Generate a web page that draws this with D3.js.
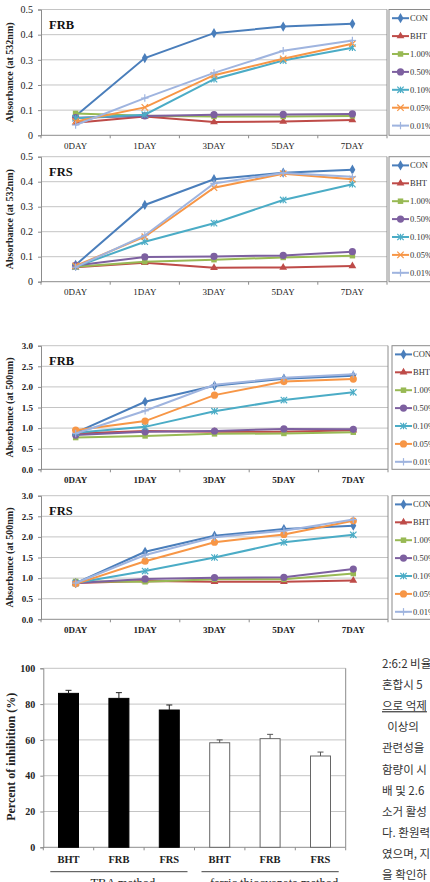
<!DOCTYPE html>
<html>
<head>
<meta charset="utf-8">
<script src="https://cdn.jsdelivr.net/npm/d3@7"></script>
<style>
  html, body { margin: 0; padding: 0; background: #fff; overflow: hidden; }
  svg { display: block; }
</style>
</head>
<body>
<svg id="chart" width="430" height="882"></svg>
<script>
// ---------------- DATA ----------------
const days = ["0DAY", "1DAY", "3DAY", "5DAY", "7DAY"];
const seriesNames = ["CON", "BHT", "1.00%", "0.50%", "0.10%", "0.05%", "0.01%"];
const seriesColors = ["#4A7EBB", "#BE4B48", "#98B954", "#7D60A0", "#4BACC6", "#F79646", "#9FB4DF"];
const markers532 = ["diamond", "triangle", "square", "circle", "star", "x", "plus"];
const markers500 = ["diamond", "triangle", "square", "circle", "star", "circle", "plus"];

const ticks532 = [0, 0.1, 0.2, 0.3, 0.4, 0.5];
const tickLabels532 = ["0", "0.1", "0.2", "0.3", "0.4", "0.5"];
const ticks500 = [0, 0.5, 1.0, 1.5, 2.0, 2.5, 3.0];
const tickLabels500 = ["0.0", "0.5", "1.0", "1.5", "2.0", "2.5", "3.0"];

// FRB, TBA (absorbance at 532nm) — rows follow seriesNames
const frb532 = [
  [0.077, 0.307, 0.406, 0.432, 0.443],
  [0.050, 0.075, 0.053, 0.055, 0.061],
  [0.087, 0.078, 0.075, 0.075, 0.077],
  [0.070, 0.077, 0.082, 0.083, 0.085],
  [0.068, 0.082, 0.223, 0.297, 0.348],
  [0.055, 0.111, 0.239, 0.304, 0.364],
  [0.041, 0.148, 0.248, 0.336, 0.377]
];
// FRS, TBA (absorbance at 532nm)
const frs532 = [
  [0.067, 0.307, 0.410, 0.436, 0.448],
  [0.058, 0.076, 0.056, 0.057, 0.063],
  [0.060, 0.080, 0.088, 0.097, 0.104],
  [0.065, 0.099, 0.101, 0.105, 0.120],
  [0.060, 0.160, 0.234, 0.327, 0.390],
  [0.063, 0.180, 0.376, 0.432, 0.410],
  [0.058, 0.185, 0.393, 0.435, 0.420]
];
// FRB, ferric thiocyanate (absorbance at 500nm)
const frb500 = [
  [0.89, 1.64, 2.03, 2.20, 2.27],
  [0.87, 0.93, 0.91, 0.91, 0.95],
  [0.77, 0.81, 0.86, 0.87, 0.90],
  [0.83, 0.91, 0.93, 0.98, 0.97],
  [0.89, 1.03, 1.41, 1.68, 1.87],
  [0.95, 1.17, 1.80, 2.13, 2.19],
  [0.87, 1.42, 2.05, 2.22, 2.31]
];
// FRS, ferric thiocyanate (absorbance at 500nm)
const frs500 = [
  [0.88, 1.64, 2.03, 2.19, 2.27],
  [0.88, 0.93, 0.91, 0.91, 0.94],
  [0.92, 0.91, 0.97, 0.97, 1.11],
  [0.88, 0.98, 1.01, 1.02, 1.22],
  [0.88, 1.17, 1.50, 1.87, 2.05],
  [0.86, 1.41, 1.87, 2.06, 2.39],
  [0.88, 1.56, 1.99, 2.15, 2.42]
];

// Bar chart: percent of inhibition
const barCategories = ["BHT", "FRB", "FRS", "BHT", "FRB", "FRS"];
const barValues = [86.0, 83.2, 76.7, 58.4, 60.7, 51.0];
const barErrors = [1.7, 3.2, 2.8, 1.6, 2.4, 2.2];
const barFills = ["#000", "#000", "#000", "#fff", "#fff", "#fff"];
const barTicks = [0, 20, 40, 60, 80, 100];
const methodGroups = ["TBA method", "ferric thiocyanate method"];

// Korean body text (clipped at page edge)
const bodyLines = [
  "2:6:2 비율로",
  "혼합시 5",
  "으로 억제",
  "  이상의",
  "관련성을",
  "함량이 시",
  "배 및 2.6",
  "소거 활성",
  "다. 환원력",
  "였으며, 지",
  "을 확인하"
];

// ---------------- DRAW ----------------
const svg = d3.select("#chart");
svg.append("rect").attr("width", 430).attr("height", 882).attr("fill", "#fff");
const SERIF = "'Liberation Serif', 'Times New Roman', serif";
const GRID = "#C4C4C4";
const AXIS = "#8C8C8C";

function drawMarker(g, type, x, y, color) {
  if (type === "circle") {
    g.append("circle").attr("cx", x).attr("cy", y).attr("r", 3.6).attr("fill", color);
  } else if (type === "diamond" || type === "triangle" || type === "square") {
    const sym = { diamond: d3.symbolDiamond, triangle: d3.symbolTriangle, square: d3.symbolSquare }[type];
    const size = { diamond: 30, triangle: 26, square: 30 }[type];
    g.append("path").attr("d", d3.symbol(sym, size)())
      .attr("transform", `translate(${x},${y})`).attr("fill", color);
  } else {
    const s = 3.2;
    let segs = [];
    if (type === "x" || type === "star") segs.push([-s, -s, s, s], [-s, s, s, -s]);
    if (type === "star") segs.push([0, -s, 0, s]);
    if (type === "plus") segs.push([-s - 0.5, 0, s + 0.5, 0], [0, -s - 0.5, 0, s + 0.5]);
    segs.forEach(p => g.append("line")
      .attr("x1", x + p[0]).attr("y1", y + p[1]).attr("x2", x + p[2]).attr("y2", y + p[3])
      .attr("stroke", color).attr("stroke-width", 1.2));
  }
}

function lineChart(cfg) {
  const g = svg.append("g");
  const x = d3.scaleBand().domain(days).range([cfg.left, cfg.right]);
  const y = d3.scaleLinear().domain([cfg.ticks[0], cfg.ticks[cfg.ticks.length - 1]]).range([cfg.bottom, cfg.top]);

  // gridlines
  g.selectAll(".grid").data(cfg.ticks).join("line")
    .attr("x1", cfg.left).attr("x2", cfg.right)
    .attr("y1", d => y(d)).attr("y2", d => y(d))
    .attr("stroke", d => d === 0 ? AXIS : GRID).attr("stroke-width", 1);
  // right border
  g.append("line").attr("x1", cfg.right).attr("x2", cfg.right)
    .attr("y1", cfg.top).attr("y2", cfg.bottom).attr("stroke", AXIS);

  // y axis
  const yAxis = d3.axisLeft(y).tickValues(cfg.ticks)
    .tickFormat((d, i) => cfg.tickLabels[i]).tickSize(3).tickPadding(5);
  const ya = g.append("g").attr("transform", `translate(${cfg.left},0)`).call(yAxis);
  ya.select(".domain").attr("stroke", AXIS);
  ya.selectAll(".tick line").attr("stroke", AXIS);
  ya.selectAll("text").attr("font-family", SERIF).attr("font-size", cfg.bold ? 9 : 10)
    .attr("font-weight", cfg.bold ? "bold" : "normal").attr("fill", "#222");

  // x axis
  const xAxis = d3.axisBottom(x).tickSize(0).tickPadding(7);
  const xa = g.append("g").attr("transform", `translate(0,${cfg.bottom})`).call(xAxis);
  xa.select(".domain").remove();
  xa.selectAll("text").attr("font-family", SERIF).attr("font-size", 9)
    .attr("font-weight", cfg.bold ? "bold" : "normal").attr("fill", "#222");
  const bounds = days.map(d => x(d)).concat([cfg.right]);
  g.selectAll(".xt").data(bounds).join("line")
    .attr("x1", d => d).attr("x2", d => d)
    .attr("y1", cfg.bottom).attr("y2", cfg.bottom + 3).attr("stroke", AXIS);

  // y title
  g.append("text")
    .attr("transform", `translate(${cfg.left - 28},${(cfg.top + cfg.bottom) / 2}) rotate(-90)`)
    .attr("text-anchor", "middle").attr("font-family", SERIF).attr("font-weight", "bold")
    .attr("font-size", 10).attr("fill", "#222").text(cfg.yTitle);

  // panel label
  g.append("text").attr("x", cfg.left + 8).attr("y", cfg.top + 19)
    .attr("font-family", SERIF).attr("font-weight", "bold").attr("font-size", 12.5)
    .attr("fill", "#111").text(cfg.label);

  // series
  const line = d3.line().x((d, i) => x(days[i]) + x.bandwidth() / 2).y(d => y(d));
  cfg.data.forEach((vals, si) => {
    const sg = g.append("g");
    sg.append("path").attr("d", line(vals)).attr("fill", "none")
      .attr("stroke", seriesColors[si]).attr("stroke-width", 2);
    vals.forEach((v, i) => drawMarker(sg, cfg.markers[si], x(days[i]) + x.bandwidth() / 2, y(v), seriesColors[si]));
  });

  // legend
  const lg = g.append("g");
  lg.append("rect").attr("x", cfg.legendX).attr("y", cfg.top)
    .attr("width", 60).attr("height", cfg.bottom - cfg.top)
    .attr("fill", "#fff").attr("stroke", "#8a8a8a");
  seriesNames.forEach((name, i) => {
    const ly = cfg.top + 8.7 + i * 17.9;
    lg.append("line").attr("x1", cfg.legendX + 3).attr("x2", cfg.legendX + 20)
      .attr("y1", ly).attr("y2", ly).attr("stroke", seriesColors[i]).attr("stroke-width", 2);
    drawMarker(lg, cfg.markers[i], cfg.legendX + 11.5, ly, seriesColors[i]);
    lg.append("text").attr("x", cfg.legendX + 21).attr("y", ly + 3)
      .attr("font-family", SERIF).attr("font-size", 8.5).attr("fill", "#333").text(name);
  });
}

lineChart({ data: frb532, label: "FRB", yTitle: "Absorbance (at 532nm)", ticks: ticks532, tickLabels: tickLabels532,
  left: 41, right: 387, top: 9.5, bottom: 135.3, legendX: 389, bold: false, markers: markers532 });
lineChart({ data: frs532, label: "FRS", yTitle: "Absorbance (at 532nm)", ticks: ticks532, tickLabels: tickLabels532,
  left: 41, right: 387, top: 156.7, bottom: 281.7, legendX: 389, bold: false, markers: markers532 });
lineChart({ data: frb500, label: "FRB", yTitle: "Absorbance (at 500nm)", ticks: ticks500, tickLabels: tickLabels500,
  left: 41, right: 388, top: 345.7, bottom: 469.3, legendX: 392, bold: true, markers: markers500 });
lineChart({ data: frs500, label: "FRS", yTitle: "Absorbance (at 500nm)", ticks: ticks500, tickLabels: tickLabels500,
  left: 41, right: 388, top: 495.7, bottom: 619.3, legendX: 392, bold: true, markers: markers500 });

// ---------------- BAR CHART ----------------
(function () {
  const left = 43.3, right = 345.7, top = 668.3, bottom = 847.3;
  const g = svg.append("g");
  const idx = barCategories.map((d, i) => i);
  const xb = d3.scaleBand().domain(idx).range([left, right]);
  const y = d3.scaleLinear().domain([0, 100]).range([bottom, top]);

  g.selectAll(".grid").data(barTicks).join("line")
    .attr("x1", left).attr("x2", right).attr("y1", d => y(d)).attr("y2", d => y(d))
    .attr("stroke", d => d === 0 ? AXIS : GRID);
  g.append("line").attr("x1", right).attr("x2", right).attr("y1", top).attr("y2", bottom).attr("stroke", AXIS);

  const ya = g.append("g").attr("transform", `translate(${left},0)`)
    .call(d3.axisLeft(y).tickValues(barTicks).tickSize(3).tickPadding(5));
  ya.select(".domain").attr("stroke", AXIS);
  ya.selectAll(".tick line").attr("stroke", AXIS);
  ya.selectAll("text").attr("font-family", SERIF).attr("font-weight", "bold")
    .attr("font-size", 10).attr("fill", "#222");

  // x ticks at boundaries
  const bounds = idx.map(i => xb(i)).concat([right]);
  g.selectAll(".xt").data(bounds).join("line")
    .attr("x1", d => d).attr("x2", d => d).attr("y1", bottom).attr("y2", bottom + 3).attr("stroke", AXIS);

  // bars
  g.selectAll(".bar").data(idx).join("rect")
    .attr("x", i => xb(i) + xb.bandwidth() / 2 - 10).attr("width", 20)
    .attr("y", i => y(barValues[i])).attr("height", i => bottom - y(barValues[i]))
    .attr("fill", i => barFills[i]).attr("stroke", i => i < 3 ? "#000" : "#666").attr("stroke-width", 1);

  // error bars (upper only)
  idx.forEach(i => {
    const cx = xb(i) + xb.bandwidth() / 2;
    const c = i < 3 ? "#222" : "#555";
    g.append("line").attr("x1", cx).attr("x2", cx)
      .attr("y1", y(barValues[i])).attr("y2", y(barValues[i] + barErrors[i])).attr("stroke", c);
    g.append("line").attr("x1", cx - 3).attr("x2", cx + 3)
      .attr("y1", y(barValues[i] + barErrors[i])).attr("y2", y(barValues[i] + barErrors[i])).attr("stroke", c);
  });

  // category labels
  const xa = g.append("g").attr("transform", `translate(0,${bottom})`)
    .call(d3.axisBottom(xb).tickSize(0).tickPadding(8).tickFormat(i => barCategories[i]));
  xa.select(".domain").remove();
  xa.selectAll("text").attr("font-family", SERIF).attr("font-weight", "bold")
    .attr("font-size", 10.5).attr("fill", "#222");

  // group brackets
  const groupSpans = [[0, 2], [3, 5]];
  groupSpans.forEach((span, gi) => {
    const x1 = xb(span[0]) + 7, x2 = xb(span[1]) + xb.bandwidth() - 7;
    g.append("line").attr("x1", x1).attr("x2", x2).attr("y1", 871.7).attr("y2", 871.7)
      .attr("stroke", "#444").attr("stroke-width", 1);
    g.append("text").attr("x", (x1 + x2) / 2 + 4).attr("y", 887).attr("text-anchor", "middle")
      .attr("font-family", SERIF).attr("font-size", 12.5).attr("fill", "#222").text(methodGroups[gi]);
  });

  // y title
  g.append("text")
    .attr("transform", `translate(15,${(top + bottom) / 2 - 1}) rotate(-90)`)
    .attr("text-anchor", "middle").attr("font-family", SERIF).attr("font-weight", "bold")
    .attr("font-size", 12).attr("fill", "#222").text("Percent of inhibition (%)");
})();

// ---------------- KOREAN TEXT ----------------
const tg = svg.append("g");
bodyLines.forEach((t, i) => {
  tg.append("text").attr("x", 382).attr("y", 668 + i * 21.1)
    .attr("font-family", "'Noto Sans CJK KR', sans-serif").attr("font-size", 11.5)
    .attr("fill", "#333").style("white-space", "pre")
    .attr("text-decoration", i === 2 ? "underline" : null).text(t);
});
</script>
</body>
</html>
